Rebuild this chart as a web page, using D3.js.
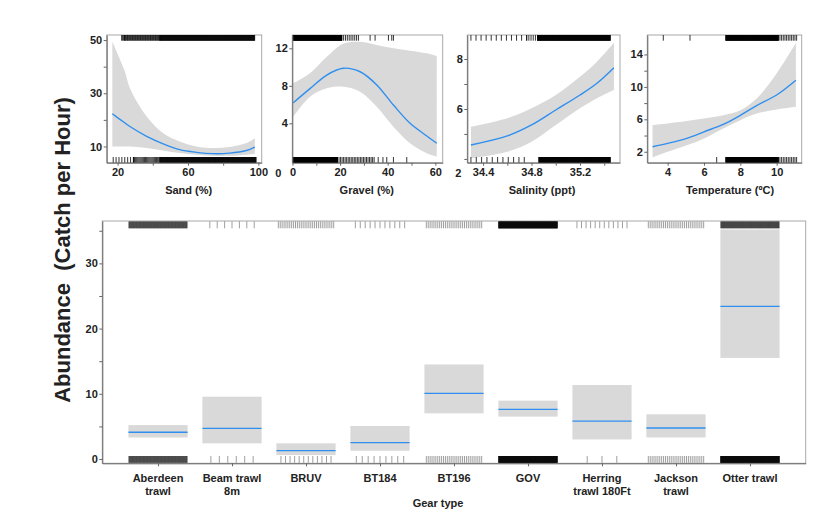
<!DOCTYPE html>
<html>
<head>
<meta charset="utf-8">
<script src="https://cdn.jsdelivr.net/npm/d3@7"></script>
<style>
  body { margin: 0; background: #fff; }
  text { font-family: "Liberation Sans", Arial, sans-serif; font-weight: bold; fill: #222; }
</style>
</head>
<body>
<div id="chart-area"></div>
<script>
// ---- smooth terms ----
const sandX   = [17, 23.8, 27, 36.5, 45.9, 55.3, 64.8, 74.2, 83.7, 93.2, 98]
const sandFit = [22.3, 19.0, 17.5, 13.8, 11.0, 8.8, 7.8, 7.3, 7.5, 8.5, 9.8]
const sandLo  = [10.0, 10.0, 10.0, 9.4, 8.5, 7.5, 6.9, 6.5, 6.5, 6.9, 7.3]
const sandHi  = [49.4, 38.8, 31.9, 21.3, 15.0, 11.9, 10.0, 9.4, 9.8, 11.3, 13.1]

const gravelX   = [0.35, 7.35, 14.4, 21.3, 28.4, 35.4, 42.4, 49.4, 56.4, 60.6]
const gravelFit = [6.2, 7.7, 9.15, 9.87, 9.5, 8.1, 5.95, 4.0, 2.65, 1.87]
const gravelLo  = [4.7, 6.84, 7.73, 7.9, 7.37, 5.77, 3.64, 1.87, 0.8, 0.44]
const gravelHi  = [8.27, 9.33, 11.1, 12.5, 12.7, 12.35, 12.0, 11.75, 11.47, 11.18]

const salX   = [34.30, 34.60, 34.80, 35.00, 35.20, 35.34, 35.48]
const salFit = [4.56, 4.92, 5.36, 5.96, 6.56, 7.03, 7.65]
const salLo  = [4.03, 4.29, 4.69, 5.36, 6.03, 6.43, 6.76]
const salHi  = [5.29, 5.63, 6.03, 6.56, 7.29, 7.89, 8.65]

const tempX   = [3.17, 4.0, 5.05, 6.0, 7.06, 8.0, 8.9, 10.0, 11.06]
const tempFit = [2.62, 3.03, 3.65, 4.46, 5.37, 6.5, 7.7, 9.0, 10.82]
const tempLo  = [1.31, 2.0, 2.8, 3.65, 4.88, 5.9, 6.72, 7.2, 7.54]
const tempHi  = [5.29, 5.5, 5.8, 6.11, 6.5, 7.13, 8.57, 11.65, 15.4]

// rugs: [from, to, number of ticks]
const sandRugTop   = [[22.3, 24, 4], [24, 44, 50], [44, 97.9, 250]]
const sandRugBot   = [[17.5, 29, 8], [29, 44, 25], [44, 98.7, 250]]
const gravelRugTop = [[0.3, 20.7, 200], [20.7, 27.7, 10], [32.6, 32.6, 1], [34.7, 34.7, 1], [40.3, 40.3, 1], [41.7, 41.7, 1], [42.4, 42.4, 1]]
const gravelRugBot = [[0.3, 18.9, 200], [18.9, 34.3, 25], [36, 36, 1], [38, 38, 1], [39.6, 39.6, 1], [42.4, 42.4, 1], [48, 48, 1]]
const salRugTop    = [[34.30, 34.76, 12], [34.76, 34.85, 6], [34.85, 35.45, 250]]
const salRugBot    = [[34.30, 34.74, 11], [34.86, 35.45, 250]]
const tempRugTop   = [[3.76, 3.76, 1], [5.23, 5.23, 1], [7.2, 10.09, 200], [10.09, 11.1, 12]]
const tempRugBot   = [[6.7, 6.7, 1], [7.2, 10.09, 200], [10.09, 11.1, 12]]

// ---- gear type term ----
const gearLabels = [['Aberdeen', 'trawl'], ['Beam trawl', '8m'], ['BRUV'], ['BT184'], ['BT196'], ['GOV'],
  ['Herring', 'trawl 180Ft'], ['Jackson', 'trawl'], ['Otter trawl']]
const gearFit = [4.1, 4.7, 1.27, 2.5, 10.07, 7.6, 5.8, 4.75, 23.4]
const gearLo  = [3.3, 2.4, 0.6, 1.27, 7.0, 6.5, 3.0, 3.3, 15.5]
const gearHi  = [5.2, 9.55, 2.4, 5.06, 14.5, 8.95, 11.35, 6.85, 35.2]
const gearRugTop = [160, 7, 30, 11, 30, 400, 12, 30, 170]
const gearRugBot = [160, 6, 12, 9, 30, 400, 3, 30, 400]

const BAND = '#d9d9d9'
const BLUE = '#2f8fef'
const FS = '11px'

const svg = d3.select('#chart-area').append('svg')
  .attr('width', 830)
  .attr('height', 522)

// ---- top row of smooth panels ----
const TOP = 35, BOTTOM = 162.7
const panels = [
  { title: 'Sand (%)', titleX: 188.7, box: [106.7, 261.7], xDom: [13.8, 101.9], yDom: [3.9, 51.9],
    xTicks: [20, 40, 60, 80, 100], xLab: [20, 60, 100], yTicks: [10, 20, 30, 40, 50], yLab: [10, 30, 50],
    x: sandX, fit: sandFit, lo: sandLo, hi: sandHi, rugTop: sandRugTop, rugBot: sandRugBot, fmt: d3.format('d') },
  { title: 'Gravel (%)', titleX: 366.8, box: [292.3, 442.7], xDom: [-0.08, 63.1], yDom: [-0.2, 13.42],
    xTicks: [0, 10, 20, 30, 40, 50, 60], xLab: [0, 20, 40, 60], yTicks: [4, 8, 12], yLab: [4, 8, 12],
    x: gravelX, fit: gravelFit, lo: gravelLo, hi: gravelHi, rugTop: gravelRugTop, rugBot: gravelRugBot, fmt: d3.format('d') },
  { title: 'Salinity (ppt)', titleX: 542, box: [467.3, 620], xDom: [34.27, 35.53], yDom: [3.85, 8.96],
    xTicks: [34.4, 34.6, 34.8, 35.0, 35.2, 35.4], xLab: [34.4, 34.8, 35.2], yTicks: [4, 5, 6, 7, 8], yLab: [6, 8],
    x: salX, fit: salFit, lo: salLo, hi: salHi, rugTop: salRugTop, rugBot: salRugBot, fmt: d3.format('.1f') },
  { title: 'Temperature (ºC)', titleX: 730, box: [647.3, 801.7], xDom: [2.88, 11.38], yDom: [0.65, 16.4],
    xTicks: [4, 6, 8, 10], xLab: [4, 6, 8, 10], yTicks: [2, 4, 6, 8, 10, 12, 14], yLab: [2, 6, 10, 14],
    x: tempX, fit: tempFit, lo: tempLo, hi: tempHi, rugTop: tempRugTop, rugBot: tempRugBot, fmt: d3.format('d') }
]

// stray labels in the original image
const strayLabels = [['0', 278.3], ['2', 458.3]]

function rugValues(segs) {
  const out = []
  segs.forEach(([a, b, n]) => {
    for (let i = 0; i < n; i++) out.push(n === 1 ? a : a + i * (b - a) / (n - 1))
  })
  return out
}

const smooth = d3.curveCatmullRom.alpha(0.5)

panels.forEach(p => {
  const x = d3.scaleLinear().domain(p.xDom).range(p.box)
  const y = d3.scaleLinear().domain(p.yDom).range([BOTTOM, TOP])
  const g = svg.append('g')

  g.append('rect')
    .attr('x', p.box[0]).attr('y', TOP)
    .attr('width', p.box[1] - p.box[0]).attr('height', BOTTOM - TOP)
    .attr('fill', 'none').attr('stroke', '#a8a8a8')

  const pts = p.x.map((v, i) => ({ x: v, fit: p.fit[i], lo: p.lo[i], hi: p.hi[i] }))

  g.append('path')
    .datum(pts)
    .attr('fill', BAND)
    .attr('d', d3.area().curve(smooth)
      .x(d => x(d.x)).y0(d => y(d.lo)).y1(d => y(d.hi)))

  g.append('path')
    .datum(pts)
    .attr('fill', 'none').attr('stroke', BLUE).attr('stroke-width', 1.4)
    .attr('d', d3.line().curve(smooth).x(d => x(d.x)).y(d => y(d.fit)))

  // rugs
  g.selectAll('.rt').data(rugValues(p.rugTop)).enter().append('line')
    .attr('x1', d => x(d)).attr('x2', d => x(d))
    .attr('y1', TOP).attr('y2', TOP + 5.7)
    .attr('stroke', '#000').attr('stroke-width', 0.8)
  g.selectAll('.rb').data(rugValues(p.rugBot)).enter().append('line')
    .attr('x1', d => x(d)).attr('x2', d => x(d))
    .attr('y1', BOTTOM - 5.7).attr('y2', BOTTOM)
    .attr('stroke', '#000').attr('stroke-width', 0.8)

  // axes
  const xAxis = g.append('g')
    .attr('transform', `translate(0, ${BOTTOM})`)
    .call(d3.axisBottom(x).tickValues(p.xTicks).tickSize(3).tickSizeOuter(0)
      .tickFormat(d => p.xLab.includes(d) ? p.fmt(d) : ''))
  const yAxis = g.append('g')
    .attr('transform', `translate(${p.box[0]}, 0)`)
    .call(d3.axisLeft(y).tickValues(p.yTicks).tickSize(3).tickSizeOuter(0).tickPadding(1.5)
      .tickFormat(d => p.yLab.includes(d) ? d : ''))
  ;[xAxis, yAxis].forEach(a => {
    a.select('.domain').attr('stroke', '#666')
    a.selectAll('.tick line').attr('stroke', '#666')
    a.selectAll('text').attr('font-size', FS).attr('font-family', null).attr('fill', '#222')
  })

  g.append('text')
    .attr('x', p.titleX).attr('y', 194)
    .attr('text-anchor', 'middle')
    .attr('font-size', FS)
    .text(p.title)
})

strayLabels.forEach(([t, xp]) => {
  svg.append('text')
    .attr('x', xp).attr('y', 177)
    .attr('text-anchor', 'middle')
    .attr('font-size', FS)
    .text(t)
})

// ---- bottom panel: gear type ----
const B = { LEFT: 102.3, RIGHT: 805.7, TOP: 221, BOTTOM: 463.3 }
const gx = d3.scalePoint()
  .domain(d3.range(gearLabels.length))
  .range([B.LEFT, B.RIGHT])
  .padding(0.753)
const gy = d3.scaleLinear().domain([-0.66, 36.5]).range([B.BOTTOM, B.TOP])
const boxW = gx.step() * 0.8

const gb = svg.append('g')
gb.append('rect')
  .attr('x', B.LEFT).attr('y', B.TOP)
  .attr('width', B.RIGHT - B.LEFT).attr('height', B.BOTTOM - B.TOP)
  .attr('fill', 'none').attr('stroke', '#a8a8a8')

gb.selectAll('.band').data(gearFit).enter().append('rect')
  .attr('x', (d, i) => gx(i) - boxW / 2)
  .attr('y', (d, i) => gy(gearHi[i]))
  .attr('width', boxW)
  .attr('height', (d, i) => gy(gearLo[i]) - gy(gearHi[i]))
  .attr('fill', BAND)

gb.selectAll('.fit').data(gearFit).enter().append('line')
  .attr('x1', (d, i) => gx(i) - boxW / 2)
  .attr('x2', (d, i) => gx(i) + boxW / 2)
  .attr('y1', d => gy(d)).attr('y2', d => gy(d))
  .attr('stroke', BLUE).attr('stroke-width', 1.3)

function gearRug(counts, y0, y1) {
  const ticks = []
  counts.forEach((n, i) => {
    for (let k = 0; k < n; k++) ticks.push(gx(i) - boxW / 2 + (k + 1) / (n + 1) * boxW)
  })
  gb.append('g').selectAll('line').data(ticks).enter().append('line')
    .attr('x1', d => d).attr('x2', d => d)
    .attr('y1', y0).attr('y2', y1)
    .attr('stroke', '#000').attr('stroke-opacity', 0.38).attr('stroke-width', 1)
}
gearRug(gearRugTop, B.TOP + 0.5, B.TOP + 7.3)
gearRug(gearRugBot, B.BOTTOM - 7.3, B.BOTTOM - 0.5)

const gyAxis = gb.append('g')
  .attr('transform', `translate(${B.LEFT}, 0)`)
  .call(d3.axisLeft(gy).tickValues([0, 5, 10, 15, 20, 25, 30, 35]).tickSize(3).tickSizeOuter(0).tickPadding(1.5)
    .tickFormat(d => d % 10 === 0 ? d : ''))
const gxAxis = gb.append('g')
  .attr('transform', `translate(0, ${B.BOTTOM})`)
  .call(d3.axisBottom(gx).tickSize(3).tickSizeOuter(0).tickFormat(''))
;[gyAxis, gxAxis].forEach(a => {
  a.select('.domain').attr('stroke', '#666')
  a.selectAll('.tick line').attr('stroke', '#666')
  a.selectAll('text').attr('font-size', FS).attr('font-family', null).attr('fill', '#222')
})

gb.selectAll('.glab').data(gearLabels).enter().append('text')
  .attr('text-anchor', 'middle')
  .attr('font-size', FS)
  .each(function (lines, i) {
    d3.select(this).selectAll('tspan').data(lines).enter().append('tspan')
      .attr('x', gx(i))
      .attr('y', (d, k) => 482 + k * 13)
      .text(d => d)
  })

gb.append('text')
  .attr('x', 438).attr('y', 506.5)
  .attr('text-anchor', 'middle')
  .attr('font-size', FS)
  .text('Gear type')

// y label
svg.append('text')
  .attr('transform', 'rotate(-90)')
  .attr('x', -250).attr('y', 70)
  .attr('text-anchor', 'middle')
  .attr('font-size', '22px')
  .attr('fill', '#111')
  .text('Abundance  (Catch per Hour)')
  .style('white-space', 'pre')
</script>
</body>
</html>
